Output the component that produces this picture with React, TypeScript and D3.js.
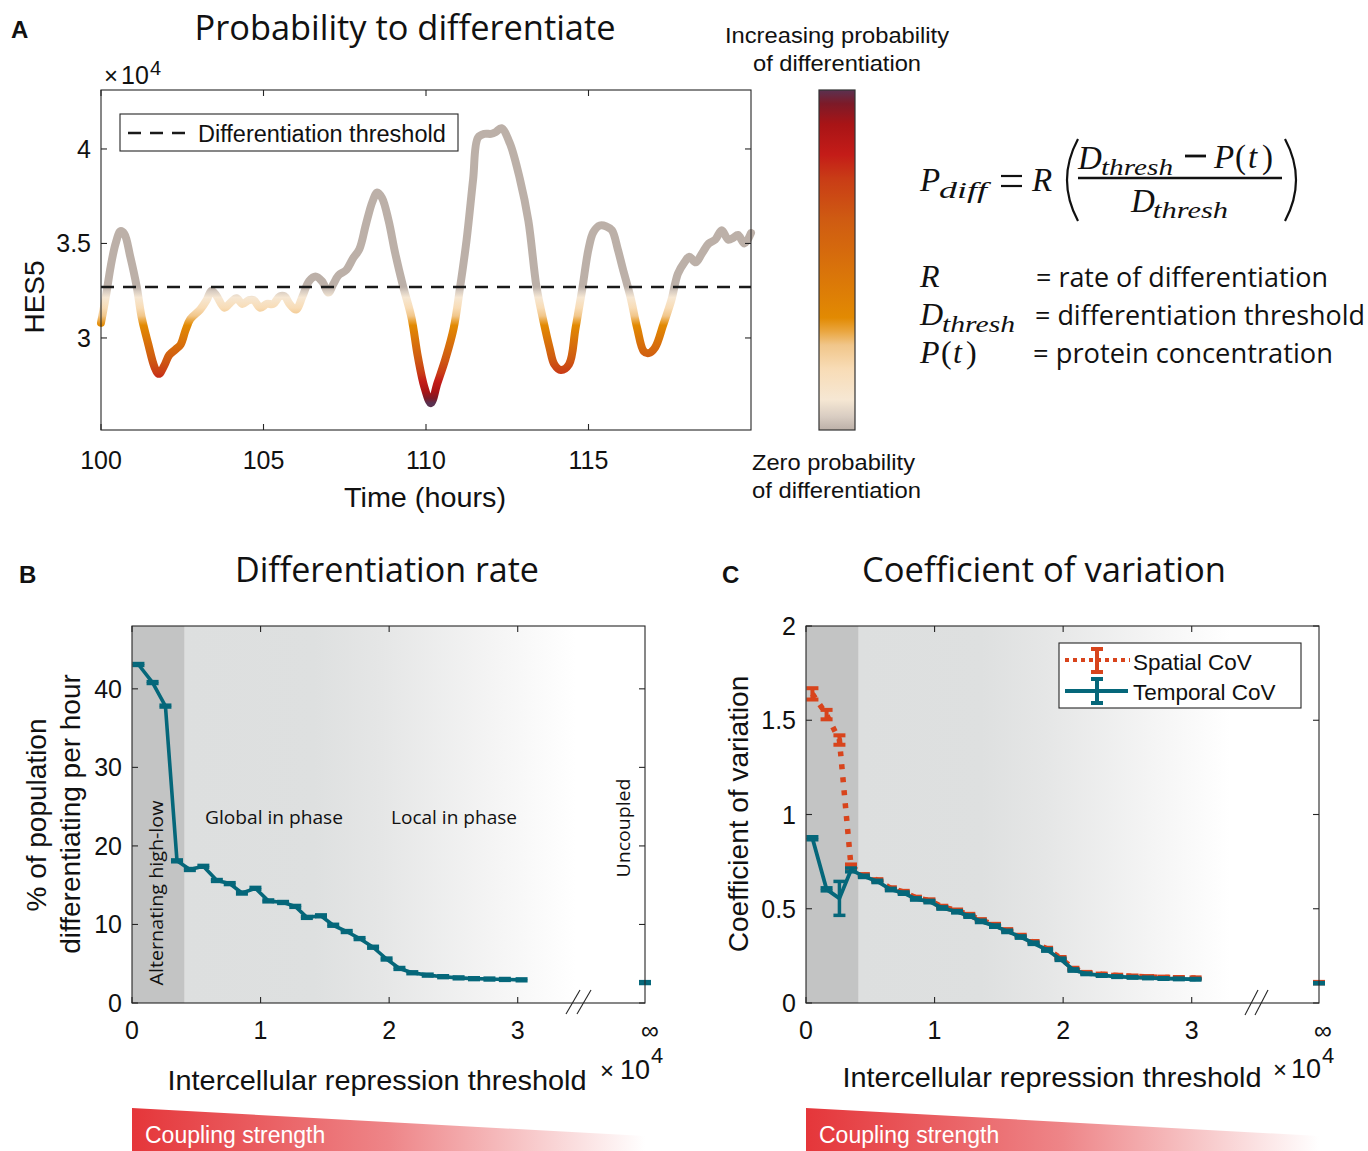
import React from "react";
import * as d3 from "d3";

// ---------------- data ----------------
// Panel A: HES5 trace (x10^4) vs time (hours)
const timeHours = [100.0,100.15,100.3,100.45,100.6,100.72,100.9,101.1,101.25,101.45,101.65,101.78,101.95,102.1,102.3,102.45,102.6,102.75,103.05,103.25,103.4,103.55,103.8,104.0,104.17,104.35,104.55,104.7,104.9,105.1,105.3,105.5,105.65,105.8,106.0,106.2,106.4,106.6,106.8,107.0,107.15,107.3,107.55,107.75,107.95,108.15,108.35,108.5,108.65,108.85,109.05,109.3,109.55,109.75,109.95,110.15,110.35,110.6,110.85,111.05,111.25,111.45,111.6,111.8,112.0,112.15,112.32,112.58,112.89,113.15,113.4,113.6,113.8,113.95,114.15,114.4,114.6,114.8,115.0,115.15,115.35,115.55,115.72,115.9,116.05,116.3,116.5,116.7,116.85,117.05,117.3,117.55,117.75,117.95,118.1,118.3,118.5,118.7,118.9,119.1,119.3,119.45,119.6,119.8,120.0];
const hes5 = [3.08,3.22,3.38,3.5,3.565,3.55,3.43,3.27,3.11,2.97,2.845,2.81,2.855,2.91,2.94,2.965,3.04,3.1,3.15,3.2,3.25,3.225,3.16,3.19,3.21,3.18,3.2,3.2,3.16,3.18,3.18,3.22,3.22,3.18,3.15,3.22,3.3,3.325,3.3,3.24,3.285,3.33,3.36,3.42,3.47,3.6,3.72,3.77,3.74,3.62,3.45,3.27,3.11,2.9,2.74,2.655,2.76,2.89,3.05,3.27,3.52,3.84,4.06,4.08,4.08,4.09,4.11,4.03,3.84,3.62,3.27,3.1,2.95,2.86,2.83,2.86,3.05,3.25,3.47,3.56,3.595,3.59,3.57,3.47,3.37,3.21,3.05,2.93,2.92,2.95,3.07,3.2,3.34,3.4,3.43,3.4,3.45,3.5,3.52,3.57,3.52,3.53,3.545,3.5,3.555];
const differentiationThreshold = 3.27;
const timeTicks = [100, 105, 110, 115];
const hesTicks = [3, 3.5, 4];

// Panels B & C: intercellular repression threshold (x10^4)
const repressionThreshold = [0.05,0.16,0.26,0.35,0.45,0.555,0.66,0.76,0.855,0.96,1.06,1.175,1.27,1.36,1.47,1.565,1.67,1.77,1.875,1.98,2.08,2.18,2.3,2.42,2.54,2.66,2.78,2.9,3.03];
const diffRate = [43.1,40.8,37.8,18.1,17.0,17.4,15.6,15.2,14.0,14.6,13.0,12.8,12.3,10.9,11.1,9.9,9.1,8.2,7.1,5.6,4.4,3.85,3.55,3.35,3.2,3.1,3.05,3.0,2.95];
const diffRateErr = [0.15,0.15,0.15,0.15,0.15,0.15,0.15,0.15,0.15,0.15,0.15,0.15,0.15,0.15,0.15,0.15,0.15,0.15,0.15,0.15,0.15,0.15,0.15,0.15,0.15,0.15,0.15,0.15,0.15];
const uncoupledDiffRate = 2.6;
const rateTicks = [0, 10, 20, 30, 40];
const thresholdTicks = [0, 1, 2, 3];

const temporalCoV = [0.874,0.603,0.555,0.706,0.672,0.645,0.602,0.583,0.552,0.538,0.504,0.484,0.461,0.433,0.408,0.38,0.35,0.317,0.281,0.232,0.175,0.155,0.146,0.14,0.136,0.133,0.13,0.128,0.126];
const temporalErr = [0.008,0.008,0.09,0.01,0.006,0.006,0.006,0.006,0.006,0.006,0.006,0.006,0.006,0.006,0.006,0.006,0.006,0.006,0.006,0.006,0.006,0.004,0.004,0.004,0.004,0.004,0.004,0.004,0.004];
const spatialCoV = [1.64,1.53,1.395,0.725,0.678,0.651,0.608,0.589,0.558,0.544,0.51,0.49,0.467,0.439,0.414,0.386,0.356,0.323,0.287,0.238,0.181,0.161,0.152,0.146,0.142,0.139,0.136,0.134,0.132];
const spatialErr = [0.03,0.025,0.025,0.01,0.006,0.006,0.006,0.006,0.006,0.006,0.006,0.006,0.006,0.006,0.006,0.006,0.006,0.006,0.006,0.006,0.006,0.004,0.004,0.004,0.004,0.004,0.004,0.004,0.004];
const uncoupledSpatialCoV = 0.108;
const uncoupledTemporalCoV = 0.105;
const covTicks = [0, 0.5, 1, 1.5, 2];

// Regime boundaries (x10^4)
const alternatingEnd = 0.41;

// colormap (0 = zero probability, 1 = max)
const colormap: [number, string][] = [
  [0.0, "#bcb0a8"],
  [0.04, "#d9cdc2"],
  [0.09, "#f6e7d3"],
  [0.18, "#f8dcb6"],
  [0.25, "#f1c68a"],
  [0.29, "#eaa640"],
  [0.33, "#e28a02"],
  [0.47, "#d9730a"],
  [0.62, "#cf5b12"],
  [0.74, "#c93c16"],
  [0.81, "#c41c18"],
  [0.9, "#a81416"],
  [0.96, "#7c1a28"],
  [1.0, "#5a3150"],
];

// ---------------- styles ----------------
const AX = "'Liberation Sans', Arial, Helvetica, sans-serif";
const MY = "'Open Sans', 'Noto Sans', sans-serif";
const SERIF = "'Liberation Serif', 'DejaVu Serif', serif";
const AXC = "#262626";
const TEAL = "#05677a";
const ORANGE = "#d8441c";

function Frame({ x0, x1, y0, y1, xt, yt }: { x0: number; x1: number; y0: number; y1: number; xt: number[]; yt: number[] }) {
  const L = 6;
  return (
    <g stroke={AXC} strokeWidth={1.1} fill="none">
      <rect x={x0} y={y0} width={x1 - x0} height={y1 - y0} />
      {xt.map((x, i) => (
        <g key={"x" + i}>
          <line x1={x} x2={x} y1={y1} y2={y1 - L} />
          <line x1={x} x2={x} y1={y0} y2={y0 + L} />
        </g>
      ))}
      {yt.map((y, i) => (
        <g key={"y" + i}>
          <line x1={x0} x2={x0 + L} y1={y} y2={y} />
          <line x1={x1} x2={x1 - L} y1={y} y2={y} />
        </g>
      ))}
    </g>
  );
}

function ErrorBars({ xs, ys, es, xS, yS, color, cap = 12, w = 3 }: any) {
  return (
    <g stroke={color} strokeWidth={w} fill="none">
      {xs.map((xv: number, i: number) => {
        const x = xS(xv);
        const yl = yS(ys[i] - es[i]);
        const yh = yS(ys[i] + es[i]);
        return (
          <g key={i}>
            <line x1={x} x2={x} y1={yl} y2={yh} />
            <line x1={x - cap / 2} x2={x + cap / 2} y1={yl} y2={yl} />
            <line x1={x - cap / 2} x2={x + cap / 2} y1={yh} y2={yh} />
          </g>
        );
      })}
    </g>
  );
}

function Wedge({ x0, x1, id }: { x0: number; x1: number; id: string }) {
  return (
    <g>
      <defs>
        <linearGradient id={id} gradientUnits="userSpaceOnUse" x1={x0} x2={x1} y1={0} y2={0}>
          <stop offset="0" stopColor="#e5363a" stopOpacity={1} />
          <stop offset="0.5" stopColor="#ee8588" stopOpacity={1} />
          <stop offset="1" stopColor="#ffffff" stopOpacity={1} />
        </linearGradient>
      </defs>
      <polygon points={`${x0},1108 ${x1},1136 ${x1},1160 ${x0},1160`} fill={`url(#${id})`} />
      <text x={x0 + 13} y={1143} fontFamily={AX} fontSize={23} fill="#ffffff">Coupling strength</text>
    </g>
  );
}

export default function App() {
  // ---- Panel A ----
  const xA = d3.scaleLinear().domain([100, 120]).range([101, 751]);
  const yA = d3.scaleLinear().domain([2.513, 4.312]).range([430, 90]);
  const traceLine = d3
    .line<number>()
    .x((_, i) => xA(timeHours[i]))
    .y((d) => yA(d))
    .curve(d3.curveCatmullRom.alpha(0.5));
  const hesMin = d3.min(hes5) as number;
  const yThr = yA(differentiationThreshold);

  // ---- Panel B ----
  const xB = d3.scaleLinear().domain([0, 3.99]).range([132, 645]);
  const yB = d3.scaleLinear().domain([0, 48]).range([1003, 626]);
  const lineB = d3.line<number>().x((_, i) => xB(repressionThreshold[i])).y((d) => yB(d));

  // ---- Panel C ----
  const xC = d3.scaleLinear().domain([0, 3.99]).range([806, 1319]);
  const yC = d3.scaleLinear().domain([0, 2]).range([1003, 626]);
  const lineC = d3.line<number>().x((_, i) => xC(repressionThreshold[i])).y((d) => yC(d));

  const shadeStops = (
    <>
      <stop offset="0" stopColor="#dddfdf" />
      <stop offset="0.33" stopColor="#dee0e0" />
      <stop offset="0.5" stopColor="#e5e6e6" />
      <stop offset="0.8" stopColor="#f5f5f5" />
      <stop offset="1" stopColor="#ffffff" />
    </>
  );

  return (
    <svg width={1368} height={1151} style={{ position: "absolute", left: 0, top: 0, background: "#fff" }}>
      <defs>
        <linearGradient id="cbar" x1="0" y1="1" x2="0" y2="0">
          {colormap.map(([o, c], i) => (
            <stop key={i} offset={o} stopColor={c} />
          ))}
        </linearGradient>
        <linearGradient id="trace" gradientUnits="userSpaceOnUse" x1={0} x2={0} y1={yThr} y2={yA(hesMin)}>
          {colormap.map(([o, c], i) => (
            <stop key={i} offset={o} stopColor={c} />
          ))}
        </linearGradient>
        <linearGradient id="shadeB" gradientUnits="userSpaceOnUse" x1={xB(alternatingEnd)} x2={xB(3.45)} y1={0} y2={0}>
          {shadeStops}
        </linearGradient>
        <linearGradient id="shadeC" gradientUnits="userSpaceOnUse" x1={xC(alternatingEnd)} x2={xC(3.3)} y1={0} y2={0}>
          {shadeStops}
        </linearGradient>
      </defs>

      {/* ================= Panel A ================= */}
      <text x={11} y={38} fontFamily={AX} fontWeight="bold" fontSize={24} fill="#111">A</text>
      <text x={405} y={40} textAnchor="middle" fontFamily={MY} fontSize={35} textLength={421} lengthAdjust="spacingAndGlyphs" fill="#111">
        Probability to differentiate
      </text>
      <rect x={101} y={90} width={650} height={340} fill="#fff" />
      <path d={traceLine(hes5) || ""} fill="none" stroke="url(#trace)" strokeWidth={8} strokeLinecap="round" strokeLinejoin="round" />
      <line x1={xA(100)} x2={xA(120)} y1={yThr} y2={yThr} stroke="#1a1a1a" strokeWidth={2.6} strokeDasharray="13 9" />
      <Frame x0={101} x1={751} y0={90} y1={430} xt={timeTicks.map(xA)} yt={hesTicks.map(yA)} />
      {/* legend */}
      <rect x={120} y={114} width={338} height={37} fill="#fff" stroke={AXC} strokeWidth={1.1} />
      <line x1={128} x2={186} y1={133} y2={133} stroke="#1a1a1a" strokeWidth={2.6} strokeDasharray="13 9" />
      <text x={198} y={141.5} fontFamily={AX} fontSize={23.5} fill="#111">Differentiation threshold</text>
      {/* ticks labels */}
      {timeTicks.map((t) => (
        <text key={t} x={xA(t)} y={469} textAnchor="middle" fontFamily={AX} fontSize={25} fill="#111">{t}</text>
      ))}
      {hesTicks.map((t) => (
        <text key={t} x={91} y={yA(t) + 9} textAnchor="end" fontFamily={AX} fontSize={25} fill="#111">{t}</text>
      ))}
      <text x={425} y={507} textAnchor="middle" fontFamily={AX} fontSize={28} textLength={162} lengthAdjust="spacingAndGlyphs" fill="#111">Time (hours)</text>
      <text transform="translate(44,297) rotate(-90)" textAnchor="middle" fontFamily={AX} fontSize={28} fill="#111">HES5</text>
      <text x={104} y={84} fontFamily={AX} fontSize={24} fill="#111">×</text>
      <text x={121} y={84} fontFamily={AX} fontSize={25} fill="#111">10</text>
      <text x={150} y={75} fontFamily={AX} fontSize={20} fill="#111">4</text>

      {/* colorbar */}
      <text x={837} y={43} textAnchor="middle" fontFamily={AX} fontSize={22} textLength={224} lengthAdjust="spacingAndGlyphs" fill="#111">Increasing probability</text>
      <text x={837} y={71} textAnchor="middle" fontFamily={AX} fontSize={22} textLength={168} lengthAdjust="spacingAndGlyphs" fill="#111">of differentiation</text>
      <rect x={819} y={90} width={36} height={340} fill="url(#cbar)" stroke="#333" strokeWidth={1.2} />
      <text x={752} y={470} fontFamily={AX} fontSize={22} textLength={163} lengthAdjust="spacingAndGlyphs" fill="#111">Zero probability</text>
      <text x={752} y={498} fontFamily={AX} fontSize={22} textLength={169} lengthAdjust="spacingAndGlyphs" fill="#111">of differentiation</text>

      {/* equation */}
      <g fontFamily={SERIF} fill="#111">
        <text x={920} y={191} fontSize={33} fontStyle="italic">P</text>
        <text x={939} y={198} fontSize={24} fontStyle="italic" textLength={48} lengthAdjust="spacingAndGlyphs">diff</text>
        <line x1={1001} x2={1022} y1={176} y2={176} stroke="#111" strokeWidth={2.2} />
        <line x1={1001} x2={1022} y1={186} y2={186} stroke="#111" strokeWidth={2.2} />
        <text x={1032} y={191} fontSize={33} fontStyle="italic">R</text>
        <path d="M1078,139 Q1056,180 1078,221" fill="none" stroke="#111" strokeWidth={2.2} />
        <path d="M1285,139 Q1307,180 1285,221" fill="none" stroke="#111" strokeWidth={2.2} />
        <text x={1078} y={169} fontSize={33} fontStyle="italic">D</text>
        <text x={1101} y={175} fontSize={24} fontStyle="italic" textLength={72} lengthAdjust="spacingAndGlyphs">thresh</text>
        <line x1={1185} x2={1206} y1={156} y2={156} stroke="#111" strokeWidth={2.8} />
        <text x={1214} y={168} fontSize={33} fontStyle="italic">P</text>
        <text x={1235} y={168} fontSize={33}>(</text>
        <text x={1248} y={168} fontSize={33} fontStyle="italic">t</text>
        <text x={1262} y={168} fontSize={33}>)</text>
        <line x1={1078} x2={1282} y1={178} y2={178} stroke="#111" strokeWidth={2.6} />
        <text x={1131} y={212} fontSize={33} fontStyle="italic">D</text>
        <text x={1153} y={218} fontSize={24} fontStyle="italic" textLength={75} lengthAdjust="spacingAndGlyphs">thresh</text>

        <text x={920} y={287} fontSize={32} fontStyle="italic">R</text>
        <text x={920} y={325} fontSize={32} fontStyle="italic">D</text>
        <text x={942} y={332} fontSize={24} fontStyle="italic" textLength={73} lengthAdjust="spacingAndGlyphs">thresh</text>
        <text x={920} y={363} fontSize={32} fontStyle="italic">P</text>
        <text x={941} y={363} fontSize={32}>(</text>
        <text x={953} y={363} fontSize={32} fontStyle="italic">t</text>
        <text x={966} y={363} fontSize={32}>)</text>
      </g>
      <g fontFamily={MY} fill="#111" fontSize={27}>
        <text x={1036} y={287} textLength={292} lengthAdjust="spacingAndGlyphs">= rate of differentiation</text>
        <text x={1035} y={325} textLength={330} lengthAdjust="spacingAndGlyphs">= differentiation threshold</text>
        <text x={1033} y={363} textLength={300} lengthAdjust="spacingAndGlyphs">= protein concentration</text>
      </g>

      {/* ================= Panel B ================= */}
      <text x={19} y={583} fontFamily={AX} fontWeight="bold" fontSize={24} fill="#111">B</text>
      <text x={387} y={582} textAnchor="middle" fontFamily={MY} fontSize={34} textLength={304} lengthAdjust="spacingAndGlyphs" fill="#111">Differentiation rate</text>
      <rect x={xB(0)} y={626} width={xB(alternatingEnd) - xB(0)} height={377} fill="#c3c4c4" />
      <rect x={xB(alternatingEnd)} y={626} width={645 - xB(alternatingEnd)} height={377} fill="url(#shadeB)" />
      <text transform={`translate(163,893) rotate(-90)`} textAnchor="middle" fontFamily={MY} fontSize={19} textLength={185} lengthAdjust="spacingAndGlyphs" fill="#111">Alternating high-low</text>
      <text x={205} y={824} fontFamily={MY} fontSize={19} textLength={138} lengthAdjust="spacingAndGlyphs" fill="#111">Global in phase</text>
      <text x={391} y={824} fontFamily={MY} fontSize={19} textLength={126} lengthAdjust="spacingAndGlyphs" fill="#111">Local in phase</text>
      <text transform={`translate(630,828) rotate(-90)`} textAnchor="middle" fontFamily={MY} fontSize={19} textLength={99} lengthAdjust="spacingAndGlyphs" fill="#111">Uncoupled</text>
      <path d={lineB(diffRate) || ""} fill="none" stroke={TEAL} strokeWidth={3.6} strokeLinejoin="round" />
      <ErrorBars xs={repressionThreshold} ys={diffRate} es={diffRateErr} xS={xB} yS={yB} color={TEAL} />
      <ErrorBars xs={[3.99]} ys={[uncoupledDiffRate]} es={[0.15]} xS={xB} yS={yB} color={TEAL} />
      <Frame x0={132} x1={645} y0={626} y1={1003} xt={thresholdTicks.map(xB)} yt={rateTicks.map(yB)} />
      <g stroke={AXC} strokeWidth={1.1}>
        <line x1={566} y1={1014} x2={580} y2={990} />
        <line x1={577} y1={1014} x2={591} y2={990} />
      </g>
      {rateTicks.map((t) => (
        <text key={t} x={122} y={yB(t) + 9} textAnchor="end" fontFamily={AX} fontSize={25} fill="#111">{t}</text>
      ))}
      {thresholdTicks.map((t) => (
        <text key={t} x={xB(t)} y={1039} textAnchor="middle" fontFamily={AX} fontSize={25} fill="#111">{t}</text>
      ))}
      <text x={650} y={1039} textAnchor="middle" fontFamily={AX} fontSize={25} fill="#111">∞</text>
      <text transform="translate(46,815) rotate(-90)" textAnchor="middle" fontFamily={AX} fontSize={28} fill="#111">% of population</text>
      <text transform="translate(80,814) rotate(-90)" textAnchor="middle" fontFamily={AX} fontSize={28} fill="#111">differentiating per hour</text>
      <text x={377} y={1090} textAnchor="middle" fontFamily={AX} fontSize={28} textLength={419} lengthAdjust="spacingAndGlyphs" fill="#111">Intercellular repression threshold</text>
      <text x={600} y={1079} fontFamily={AX} fontSize={24} fill="#111">×</text>
      <text x={620} y={1079} fontFamily={AX} fontSize={27} fill="#111">10</text>
      <text x={651} y={1063} fontFamily={AX} fontSize={22} fill="#111">4</text>
      <Wedge x0={132} x1={645} id="wedgeB" />

      {/* ================= Panel C ================= */}
      <text x={722} y={583} fontFamily={AX} fontWeight="bold" fontSize={24} fill="#111">C</text>
      <text x={1044} y={582} textAnchor="middle" fontFamily={MY} fontSize={34} textLength={364} lengthAdjust="spacingAndGlyphs" fill="#111">Coefficient of variation</text>
      <rect x={xC(0)} y={626} width={xC(alternatingEnd) - xC(0)} height={377} fill="#c3c4c4" />
      <rect x={xC(alternatingEnd)} y={626} width={1319 - xC(alternatingEnd)} height={377} fill="url(#shadeC)" />
      <path d={lineC(spatialCoV) || ""} fill="none" stroke={ORANGE} strokeWidth={5.5} strokeDasharray="5 8" />
      <ErrorBars xs={repressionThreshold} ys={spatialCoV} es={spatialErr} xS={xC} yS={yC} color={ORANGE} cap={12} w={4} />
      <path d={lineC(temporalCoV) || ""} fill="none" stroke={TEAL} strokeWidth={3.8} strokeLinejoin="round" />
      <ErrorBars xs={repressionThreshold} ys={temporalCoV} es={temporalErr} xS={xC} yS={yC} color={TEAL} cap={12} w={3.5} />
      <ErrorBars xs={[3.99]} ys={[uncoupledSpatialCoV]} es={[0.004]} xS={xC} yS={yC} color={ORANGE} w={4} />
      <ErrorBars xs={[3.99]} ys={[uncoupledTemporalCoV]} es={[0.003]} xS={xC} yS={yC} color={TEAL} w={3.5} />
      <Frame x0={806} x1={1319} y0={626} y1={1003} xt={thresholdTicks.map(xC)} yt={covTicks.map(yC)} />
      <g stroke={AXC} strokeWidth={1.1}>
        <line x1={1245} y1={1015} x2={1258} y2={990} />
        <line x1={1255} y1={1015} x2={1268} y2={990} />
      </g>
      {/* legend */}
      <rect x={1059} y={643} width={242} height={65} fill="#fff" stroke={AXC} strokeWidth={1.1} />
      <line x1={1065} x2={1130} y1={660} y2={660} stroke={ORANGE} strokeWidth={4} strokeDasharray="4 4" />
      <g stroke={ORANGE} strokeWidth={4}>
        <line x1={1097} x2={1097} y1={649} y2={672} />
        <line x1={1091} x2={1103} y1={649} y2={649} />
        <line x1={1091} x2={1103} y1={672} y2={672} />
      </g>
      <line x1={1065} x2={1128} y1={691} y2={691} stroke={TEAL} strokeWidth={3.8} />
      <g stroke={TEAL} strokeWidth={4}>
        <line x1={1097} x2={1097} y1={679} y2={703} />
        <line x1={1091} x2={1103} y1={679} y2={679} />
        <line x1={1091} x2={1103} y1={703} y2={703} />
      </g>
      <text x={1133} y={670} fontFamily={AX} fontSize={22.5} fill="#111">Spatial CoV</text>
      <text x={1133} y={700} fontFamily={AX} fontSize={22.5} fill="#111">Temporal CoV</text>
      {covTicks.map((t) => (
        <text key={t} x={796} y={yC(t) + 9} textAnchor="end" fontFamily={AX} fontSize={25} fill="#111">{t}</text>
      ))}
      {thresholdTicks.map((t) => (
        <text key={t} x={xC(t)} y={1039} textAnchor="middle" fontFamily={AX} fontSize={25} fill="#111">{t}</text>
      ))}
      <text x={1323} y={1039} textAnchor="middle" fontFamily={AX} fontSize={25} fill="#111">∞</text>
      <text transform="translate(748,814) rotate(-90)" textAnchor="middle" fontFamily={AX} fontSize={28} fill="#111">Coefficient of variation</text>
      <text x={1052} y={1087} textAnchor="middle" fontFamily={AX} fontSize={28} textLength={419} lengthAdjust="spacingAndGlyphs" fill="#111">Intercellular repression threshold</text>
      <text x={1273} y={1078} fontFamily={AX} fontSize={24} fill="#111">×</text>
      <text x={1291} y={1078} fontFamily={AX} fontSize={27} fill="#111">10</text>
      <text x={1322} y={1063} fontFamily={AX} fontSize={22} fill="#111">4</text>
      <Wedge x0={806} x1={1319} id="wedgeC" />
    </svg>
  );
}
